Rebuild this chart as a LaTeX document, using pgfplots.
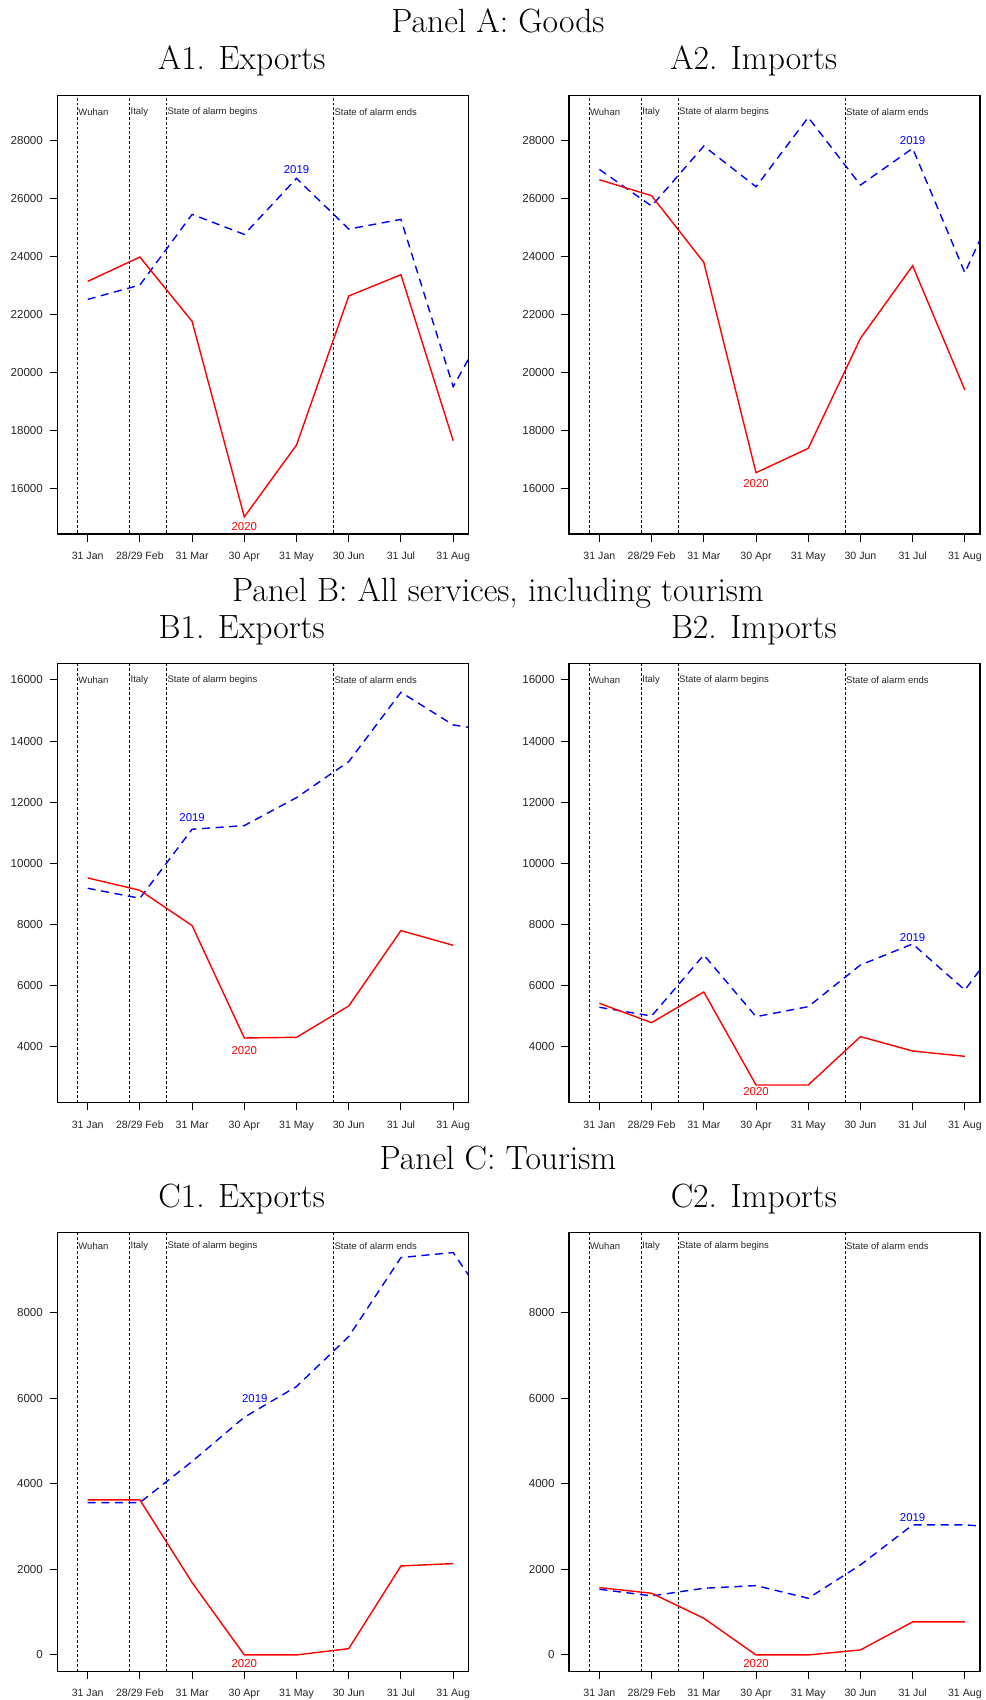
\documentclass[border=0pt]{standalone}
\usepackage{fontspec}
\newfontfamily\lsans{Liberation Sans}
\usepackage{pgfplots}
\pgfplotsset{compat=1.18}
\newcommand{\tickfont}{\fontsize{5.8}{7}\lsans}
\newcommand{\xtickfont}{\fontsize{5.3}{6.5}\lsans}
\newcommand{\annfont}{\fontsize{4.75}{5.5}\lsans}
\newcommand{\yrfont}{\fontsize{5.7}{7}\lsans}
\newcommand{\titfont}{\fontsize{16.8}{19}\selectfont}
\pgfplotsset{
 panel/.style={
  scale only axis, width=205.5pt, height=219.4pt,
  xmin=-0.582, xmax=7.29,
  xtick={0,...,7},
  xticklabels={31 Jan,28/29 Feb,31 Mar,30 Apr,31 May,30 Jun,31 Jul,31 Aug},
  scaled y ticks=false,
  tick align=outside, xtick pos=left, ytick pos=left,
  major tick length=3.8pt,
  tick style={black, line width=0.5pt},
  axis line style={line width=0.6pt},
  ticklabel style={font=\tickfont, text=black!85},
  xticklabel style={font=\xtickfont, inner sep=0pt, anchor=north, yshift=-5pt},
  yticklabel style={inner sep=0pt, anchor=east, xshift=-3.2pt},
  anchor=south west,
 },
}
\tikzset{
 y2019/.style={blue, line width=0.7pt, dash pattern=on 4pt off 2.8pt},
 y2020/.style={red, line width=0.7pt},
 vline/.style={black, line width=0.45pt, dash pattern=on 1.4pt off 1pt},
 ann/.style={anchor=west, inner sep=0pt, xshift=0.4pt, font=\annfont, text=black!85},
 yr/.style={inner sep=0pt, font=\yrfont},
}
\newcommand{\vlines}[3]{% ymin ymax texty
  \addplot[vline] coordinates {(-0.2,#1) (-0.2,#2)};
  \addplot[vline] coordinates {(0.8,#1) (0.8,#2)};
  \addplot[vline] coordinates {(1.506,#1) (1.506,#2)};
  \addplot[vline] coordinates {(4.705,#1) (4.705,#2)};
  \node[ann] at (axis cs:-0.2,#3) {Wuhan};
  \node[ann] at (axis cs:0.8,#3) {Italy};
  \node[ann] at (axis cs:1.506,#3) {State of alarm begins};
  \node[ann] at (axis cs:4.705,#3) {State of alarm ends};
}
\begin{document}
\begin{tikzpicture}
\useasboundingbox (0,0) rectangle (492.5pt,850pt);
% titles
\node[anchor=base, font=\titfont] at (249pt,833.85pt) {Panel A: Goods};
\node[anchor=base, font=\titfont] at (120.85pt,815pt) {A1. Exports};
\node[anchor=base, font=\titfont] at (376.9pt,815pt) {A2. Imports};
\node[anchor=base, font=\titfont] at (249pt,549.35pt) {Panel B: All services, including tourism};
\node[anchor=base, font=\titfont] at (120.85pt,530.5pt) {B1. Exports};
\node[anchor=base, font=\titfont] at (376.9pt,530.5pt) {B2. Imports};
\node[anchor=base, font=\titfont] at (249pt,265pt) {Panel C: Tourism};
\node[anchor=base, font=\titfont] at (120.85pt,246.15pt) {C1. Exports};
\node[anchor=base, font=\titfont] at (376.9pt,246.15pt) {C2. Imports};

% A1
\begin{axis}[panel, at={(28.65pt,583pt)}, ymin=14450, ymax=29570,
  ytick={16000,18000,20000,22000,24000,26000,28000},
  yticklabels={16000,18000,20000,22000,24000,26000,28000}]
\vlines{14000}{30000}{29000}
\addplot[y2019] coordinates {(0,22534) (1,23028) (2,25462) (3,24773) (4,26702) (5,24957) (6,25290) (7,19525) (8,22770)};
\addplot[y2020] coordinates {(0,23154) (1,23992) (2,21776) (3,15040) (4,17515) (5,22649) (6,23384) (7,17665)};
\node[yr, text=blue] at (axis cs:4,26989) {2019};
\node[yr, text=red] at (axis cs:3,14702) {2020};
\end{axis}
% A2
\begin{axis}[panel, at={(284.5pt,583pt)}, ymin=14450, ymax=29570,
  ytick={16000,18000,20000,22000,24000,26000,28000},
  yticklabels={16000,18000,20000,22000,24000,26000,28000}]
\vlines{14000}{30000}{29000}
\addplot[y2019] coordinates {(0,27012) (1,25749) (2,27816) (3,26415) (4,28804) (5,26473) (6,27736) (7,23452) (8,27375)};
\addplot[y2020] coordinates {(0,26656) (1,26105) (2,23808) (3,16562) (4,17400) (5,21190) (6,23694) (7,19410)};
\node[yr, text=blue] at (axis cs:6,27989) {2019};
\node[yr, text=red] at (axis cs:3,16195) {2020};
\end{axis}
% B1
\begin{axis}[panel, at={(28.65pt,298.65pt)}, ymin=2167, ymax=16524,
  ytick={4000,6000,8000,10000,12000,14000,16000},
  yticklabels={4000,6000,8000,10000,12000,14000,16000}]
\vlines{2000}{17000}{16000}
\addplot[y2019] coordinates {(0,9182) (1,8855) (2,11113) (3,11233) (4,12149) (5,13327) (6,15596) (7,14527) (8,14262)};
\addplot[y2020] coordinates {(0,9520) (1,9117) (2,7960) (3,4284) (4,4306) (5,5331) (6,7797) (7,7317)};
\node[yr, text=blue] at (axis cs:2,11484) {2019};
\node[yr, text=red] at (axis cs:3,3859) {2020};
\end{axis}
% B2
\begin{axis}[panel, at={(284.5pt,298.65pt)}, ymin=2167, ymax=16524,
  ytick={4000,6000,8000,10000,12000,14000,16000},
  yticklabels={4000,6000,8000,10000,12000,14000,16000}]
\vlines{2000}{17000}{16000}
\addplot[y2019] coordinates {(0,5288) (1,5004) (2,7000) (3,4982) (4,5309) (5,6673) (6,7360) (7,5855) (8,8134)};
\addplot[y2020] coordinates {(0,5419) (1,4786) (2,5789) (3,2746) (4,2746) (5,4328) (6,3858) (7,3684)};
\node[yr, text=blue] at (axis cs:6,7568) {2019};
\node[yr, text=red] at (axis cs:3,2528) {2020};
\end{axis}
% C1
\begin{axis}[panel, at={(28.65pt,14.35pt)}, ymin=-382, ymax=9868,
  ytick={0,2000,4000,6000,8000},
  yticklabels={0,2000,4000,6000,8000}]
\vlines{-500}{10000}{9560}
\addplot[y2019] coordinates {(0,3559) (1,3559) (2,4520) (3,5553) (4,6269) (5,7438) (6,9283) (7,9400) (8,7603)};
\addplot[y2020] coordinates {(0,3621) (1,3621) (2,1690) (3,0) (4,0) (5,148) (6,2079) (7,2134)};
\node[yr, text=blue] at (axis cs:3.2,5981) {2019};
\node[yr, text=red] at (axis cs:3,-210) {2020};
\end{axis}
% C2
\begin{axis}[panel, at={(284.5pt,14.35pt)}, ymin=-382, ymax=9868,
  ytick={0,2000,4000,6000,8000},
  yticklabels={0,2000,4000,6000,8000}]
\vlines{-500}{10000}{9560}
\addplot[y2019] coordinates {(0,1534) (1,1379) (2,1558) (3,1620) (4,1324) (5,2103) (6,3037) (7,3037) (8,2960)};
\addplot[y2020] coordinates {(0,1573) (1,1441) (2,857) (3,0) (4,0) (5,117) (6,771) (7,771)};
\node[yr, text=blue] at (axis cs:6,3201) {2019};
\node[yr, text=red] at (axis cs:3,-210) {2020};
\end{axis}
\end{tikzpicture}
\end{document}
